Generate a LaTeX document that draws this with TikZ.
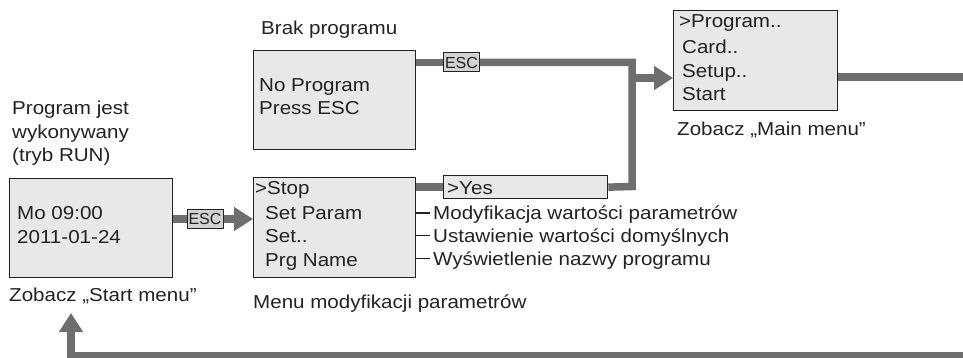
\documentclass[tikz,border=0pt]{standalone}
\usepackage{fontspec}
\setmainfont{Liberation Sans}[FakeStretch=1.1]
\newfontfamily\escfont{Liberation Sans}
\usetikzlibrary{arrows.meta,backgrounds}
\definecolor{linegray}{HTML}{6E6E6E}
\definecolor{boxfill}{HTML}{E8E8E8}
\definecolor{escfill}{HTML}{D2D2D2}
\definecolor{txt}{HTML}{222222}
\begin{document}
\begin{tikzpicture}[x=1pt,y=-1pt,
  screen/.style={draw=txt, line width=1.3pt, fill=boxfill, inner sep=0pt, anchor=north west},
  lbl/.style={anchor=base west, inner sep=0pt, text=txt, font=\fontsize{18.7}{22}\selectfont},
  esc/.style={draw=txt, line width=1pt, fill=escfill, inner sep=0pt, font=\escfont\fontsize{16}{18}\selectfont, text=txt, minimum width=36pt, minimum height=19pt},
  flow/.style={draw=linegray, line width=7.5pt, line join=miter},
  flowarrow/.style={flow, -{Triangle[length=19pt,width=23pt]}},
  tick/.style={draw=txt, line width=1.3pt}
]
\useasboundingbox (0,0) rectangle (963,358);

% screens
\node[screen, minimum width=163pt, minimum height=99pt] (start) at (9,178) {};
\node[screen, minimum width=162pt, minimum height=99pt] (noprog) at (253,50) {};
\node[screen, minimum width=162pt, minimum height=100pt] (stop) at (253,177) {};
\node[screen, minimum width=164pt, minimum height=100pt] (main) at (673,10) {};
\node[screen, minimum width=164pt, minimum height=23pt] (yes) at (443,175) {};

% ESC keys
\node[esc] (esc1) at (461.5,62.5) {ESC};
\node[esc] (esc2) at (205,219) {ESC};

% screen texts
\node[lbl] (t1) at (17,219.5) {Mo 09:00};
\node[lbl] (t2) at (17,243) {2011-01-24};
\node[lbl] (t3) at (259,92) {No Program};
\node[lbl] (t4) at (259,115) {Press ESC};
\node[lbl] (t5) at (255,194) {>Stop};
\node[lbl] (t6) at (265,219) {Set Param};
\node[lbl] (t7) at (265,242) {Set..};
\node[lbl] (t8) at (265,266) {Prg Name};
\node[lbl] (t9) at (679,28) {>Program..};
\node[lbl] (t10) at (682,54) {Card..};
\node[lbl] (t11) at (682,78) {Setup..};
\node[lbl] (t12) at (682,101) {Start};
\node[lbl] (t13) at (447,195) {>Yes};

% captions
\node[lbl] (c1) at (261,35) {Brak programu};
\node[lbl] (c2) at (12,115) {Program jest};
\node[lbl] (c3) at (12,139) {wykonywany};
\node[lbl] (c4) at (12,162) {(tryb RUN)};
\node[lbl] (c5) at (677,136) {Zobacz „Main menu”};
\node[lbl] (c6) at (9,301) {Zobacz „Start menu”};
\node[lbl] (c7) at (253,308) {Menu modyfikacji parametrów};

% descriptions
\node[lbl] (d1) at (433,219.5) {Modyfikacja wartości parametrów};
\node[lbl] (d2) at (433,242) {Ustawienie wartości domyślnych};
\node[lbl] (d3) at (433,265) {Wyświetlenie nazwy programu};
\coordinate (k1) at (430,213);
\coordinate (k2) at (430,235.5);
\coordinate (k3) at (430,258.5);
\draw[tick] (k1 -| stop.east) -- (k1);
\draw[tick] (k2 -| stop.east) -- (k2);
\draw[tick] (k3 -| stop.east) -- (k3);

% connectors
\coordinate (j1) at (632,62.5);
\coordinate (j2) at (632,186.5);
\coordinate (j3) at (628.5,78);
\coordinate (r1) at (963,77);
\coordinate (r2) at (963,356);
\coordinate (b1) at (71,356);
\coordinate (up) at (71,313);
\begin{scope}[on background layer]
\draw[flow] (esc2.west -| start.east) -- (esc2.west);
\draw[flowarrow] (esc2.east) -- (esc2.east -| stop.west);
\draw[flow] (esc1.west -| noprog.east) -- (esc1.west);
\draw[flow] (esc1.east) -- (j1) -- (j2) -- (yes.east);
\draw[flow] (yes.west -| stop.east) -- (yes.west);
\draw[flowarrow] (j3) -- (j3 -| main.west);
\draw[flow] (r1 -| main.east) -- (r1);
\draw[flowarrow] (r2) -- (b1) -- (up);
\end{scope}
\end{tikzpicture}
\end{document}
